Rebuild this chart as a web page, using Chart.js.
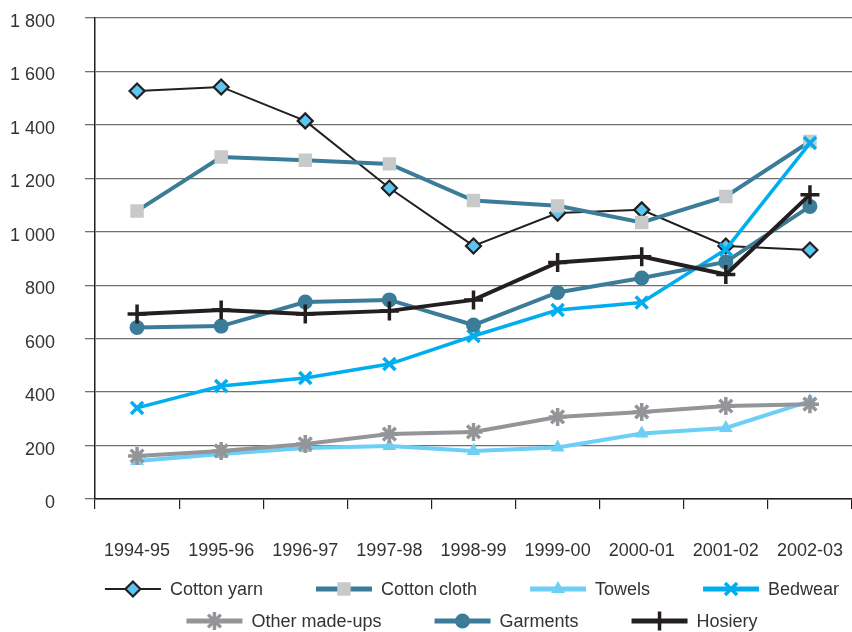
<!DOCTYPE html>
<html>
<head>
<meta charset="utf-8">
<script src="https://cdn.jsdelivr.net/npm/chart.js@4.4.1/dist/chart.umd.min.js"></script>
<style>
  html, body { margin: 0; padding: 0; background: #fff; }
  canvas { display: block; }
</style>
</head>
<body>
<canvas id="c" width="852" height="632"></canvas>
<script>
// Textile exports by product group, 1994-95 to 2002-03
const seasons = ['1994-95', '1995-96', '1996-97', '1997-98', '1998-99', '1999-00', '2000-01', '2001-02', '2002-03'];
const cottonYarn   = [1527, 1542, 1415, 1164, 947, 1070, 1082, 947, 932];
const cottonCloth  = [1078, 1280, 1268, 1254, 1117, 1097, 1035, 1132, 1338];
const towels       = [142, 168, 191, 198, 180, 193, 245, 266, 366];
const bedwear      = [341, 423, 453, 505, 610, 707, 735, 934, 1332];
const otherMadeUps = [161, 180, 206, 243, 251, 307, 326, 348, 355];
const garments     = [642, 647, 737, 745, 651, 773, 827, 887, 1095];
const hosiery      = [692, 707, 692, 704, 745, 885, 907, 840, 1139];
const yTickLabels  = ['0', '200', '400', '600', '800', '1 000', '1 200', '1 400', '1 600', '1 800'];

const FONT = '"Liberation Sans", Arial, sans-serif';
const INK = '#231f20';
const TEAL = '#3b7c98';

function series(label, data, color, width, style, radius, fill, border, borderW) {
  return {
    label, data,
    borderColor: color,
    borderWidth: width,
    pointStyle: style,
    pointRadius: radius,
    pointBackgroundColor: fill,
    pointBorderColor: border,
    pointBorderWidth: borderW,
    fill: false,
    tension: 0
  };
}

const datasets = [
  series('Cotton yarn', cottonYarn, INK, 2, 'rectRot', 7.5, '#5bc6f0', INK, 2.2),
  series('Cotton cloth', cottonCloth, TEAL, 4, 'rect', 9.5, '#c8c9cb', '#c8c9cb', 0),
  series('Towels', towels, '#6dcff6', 4, 'triangle', 8, '#6dcff6', '#6dcff6', 0),
  series('Bedwear', bedwear, '#00aeef', 3.5, 'crossRot', 8.5, '#00aeef', '#00aeef', 3.5),
  series('Other made-ups', otherMadeUps, '#939598', 4, 'star', 9, '#939598', '#939598', 3.5),
  series('Garments', garments, TEAL, 4, 'circle', 7.5, TEAL, TEAL, 0),
  series('Hosiery', hosiery, INK, 4, 'cross', 9.5, INK, INK, 3.5)
];
// later series are painted over earlier ones
datasets.forEach((d, i) => { d.order = datasets.length - i; });

// two-row legend under the category labels, line sample with marker
const bottomLegend = {
  id: 'bottomLegend',
  afterDraw(chart) {
    const ctx = chart.ctx;
    const rows = [[0, 1, 2, 3], [4, 5, 6]];
    const rowY = [589, 621];
    const sampleW = 56, textGap = 9, itemGap = 53, centerX = 472;
    ctx.save();
    ctx.font = '18px ' + FONT;
    ctx.textBaseline = 'middle';
    rows.forEach((row, r) => {
      const ds = row.map(i => chart.data.datasets[i]);
      const widths = ds.map(d => sampleW + textGap + ctx.measureText(d.label).width);
      const total = widths.reduce((a, b) => a + b, 0) + itemGap * (row.length - 1);
      let x = centerX - total / 2;
      const y = rowY[r];
      ds.forEach((d, k) => {
        ctx.strokeStyle = d.borderColor;
        ctx.lineWidth = d.borderWidth === 2 ? 2 : 5;
        ctx.beginPath();
        ctx.moveTo(x, y);
        ctx.lineTo(x + sampleW, y);
        ctx.stroke();
        ctx.fillStyle = d.pointBackgroundColor;
        ctx.strokeStyle = d.pointBorderColor;
        ctx.lineWidth = d.pointBorderWidth;
        Chart.helpers.drawPoint(ctx, {
          pointStyle: d.pointStyle, radius: d.pointRadius, rotation: 0, borderWidth: d.pointBorderWidth
        }, x + sampleW / 2, y);
        ctx.fillStyle = '#333333';
        ctx.fillText(d.label, x + sampleW + textGap, y + 1);
        x += widths[k] + itemGap;
      });
    });
    ctx.restore();
  }
};

new Chart(document.getElementById('c'), {
  type: 'line',
  data: { labels: seasons, datasets },
  plugins: [bottomLegend],
  options: {
    responsive: false,
    animation: false,
    layout: { autoPadding: false, padding: { top: 18, right: 0, bottom: 70, left: 0 } },
    plugins: { legend: { display: false }, tooltip: { enabled: false } },
    scales: {
      x: {
        offset: true,
        grid: { offset: true, drawOnChartArea: false, drawTicks: true, tickLength: 10, color: INK, lineWidth: 1.2 },
        border: { color: INK, width: 1.5 },
        ticks: { padding: 31, autoSkip: false, maxRotation: 0, color: '#333333', font: { family: FONT, size: 18 } },
        afterFit: s => { s.height = 63; s.paddingLeft = 0; s.paddingRight = 0; }
      },
      y: {
        min: 0, max: 1800,
        grid: { color: '#707070', lineWidth: 1.3, tickLength: 10 },
        border: { color: INK, width: 1.5 },
        ticks: {
          stepSize: 200, padding: 30, labelOffset: 4,
          color: '#333333', font: { family: FONT, size: 18 },
          callback: (v, i) => yTickLabels[i]
        },
        afterFit: s => { s.width = 95; s.paddingTop = 0; s.paddingBottom = 0; }
      }
    }
  }
});
</script>
</body>
</html>
